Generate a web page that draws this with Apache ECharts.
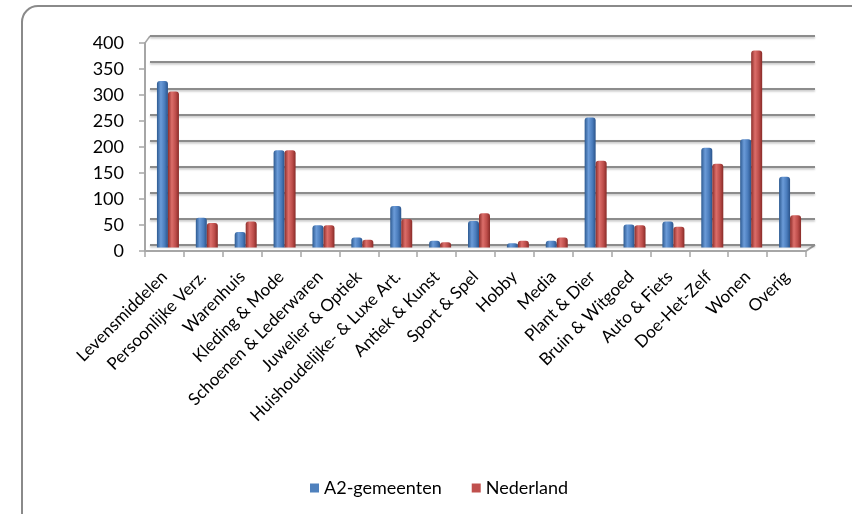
<!DOCTYPE html>
<html>
<head>
<meta charset="utf-8">
<script src="https://cdn.jsdelivr.net/npm/echarts@6/dist/echarts.min.js"></script>
<style>
html,body{margin:0;padding:0;background:#fff;}
#c{width:852px;height:514px;}
</style>
</head>
<body>
<div id="c"></div>
<script>
const categories = ['Levensmiddelen','Persoonlijke Verz.','Warenhuis','Kleding & Mode','Schoenen & Lederwaren','Juwelier & Optiek','Huishoudelijke- & Luxe Art.','Antiek & Kunst','Sport & Spel','Hobby','Media','Plant & Dier','Bruin & Witgoed','Auto & Fiets','Doe-Het-Zelf','Wonen','Overig'];
const seriesNames = ['A2-gemeenten','Nederland'];
const a2Values = [320, 57, 30, 187, 43, 19, 80, 13, 51, 8, 13, 250, 44, 50, 192, 208, 136];
const nlValues = [300, 47, 50, 187, 43, 15, 55, 10, 66, 13, 19, 167, 43, 40, 161, 379, 62];
const yMin = 0, yMax = 400, yStep = 50;

const FONT = 'Lato';
const blueGrad = {type:'linear',x:0,y:0,x2:1,y2:0,colorStops:[
  {offset:0,color:'#2d5a91'},{offset:0.35,color:'#6b9bd8'},{offset:0.7,color:'#4a7cbc'},{offset:1,color:'#2a538a'}]};
const redGrad = {type:'linear',x:0,y:0,x2:1,y2:0,colorStops:[
  {offset:0,color:'#8c2d2a'},{offset:0.35,color:'#dc6e6a'},{offset:0.7,color:'#bd4d4a'},{offset:1,color:'#882b28'}]};

const chart = echarts.init(document.getElementById('c'));
chart.setOption({
  animation:false,
  backgroundColor:'#fff',
  graphic:[
    {type:'rect',shape:{x:22,y:6,width:850,height:530,r:16},style:{fill:'none',stroke:'#8a8a8a',lineWidth:2},z:-1},
    {type:'line',shape:{x1:806,y1:251,x2:815,y2:245},style:{stroke:'#a6a6a6',lineWidth:2}},
    {type:'line',shape:{x1:145,y1:43,x2:150,y2:36},style:{stroke:'#a6a6a6',lineWidth:1.5}}
  ],
  legend:{
    bottom:12,left:305,itemWidth:9,itemHeight:9,itemGap:30,
    textStyle:{fontFamily:FONT,fontSize:18,color:'#000'},
    data:[{name:seriesNames[0],icon:'rect',itemStyle:{color:'#4F81BD'}},
          {name:seriesNames[1],icon:'rect',itemStyle:{color:'#C0504D'}}]
  },
  grid:[
    {left:145,right:46,top:43,bottom:263},   // front axes
    {left:150,right:37,top:36,bottom:269},   // back wall
    {left:148.5,right:42.5,top:39.5,bottom:266.5} // bars (mid depth)
  ],
  xAxis:[
    {gridIndex:0,type:'category',data:categories,
     axisLine:{lineStyle:{color:'#a6a6a6',width:2}},
     axisTick:{show:true,length:6,lineStyle:{color:'#a6a6a6',width:1.5}},
     axisLabel:{rotate:45,interval:0,margin:23,fontFamily:FONT,fontSize:17,color:'#000'}},
    {gridIndex:1,type:'category',data:categories,show:false},
    {gridIndex:2,type:'category',data:categories,show:false}
  ],
  yAxis:[
    {gridIndex:0,type:'value',min:yMin,max:yMax,interval:yStep,
     axisLine:{show:true,lineStyle:{color:'#a6a6a6',width:2}},
     axisTick:{show:true,length:6,lineStyle:{color:'#a6a6a6',width:1.5}},
     splitLine:{show:false},
     axisLabel:{margin:21,fontFamily:FONT,fontSize:18,color:'#000'}},
    {gridIndex:1,type:'value',min:yMin,max:yMax,interval:yStep,
     axisLine:{show:false},axisTick:{show:false},axisLabel:{show:false},
     splitLine:{show:true,lineStyle:{color:'#8c8c8c',width:2,shadowColor:'rgba(0,0,0,0.25)',shadowBlur:2,shadowOffsetY:1.5}}},
    {gridIndex:2,type:'value',min:yMin,max:yMax,interval:yStep,show:false,splitLine:{show:false}}
  ],
  series:[
    {name:seriesNames[0],type:'bar',xAxisIndex:2,yAxisIndex:2,data:a2Values,barWidth:11,barGap:'0%',
     itemStyle:{color:blueGrad,borderRadius:[3,3,0,0]},z:3},
    {name:seriesNames[1],type:'bar',xAxisIndex:2,yAxisIndex:2,data:nlValues,barWidth:11,barGap:'0%',
     itemStyle:{color:redGrad,borderRadius:[3,3,0,0]},z:3}
  ]
});
</script>
</body>
</html>
